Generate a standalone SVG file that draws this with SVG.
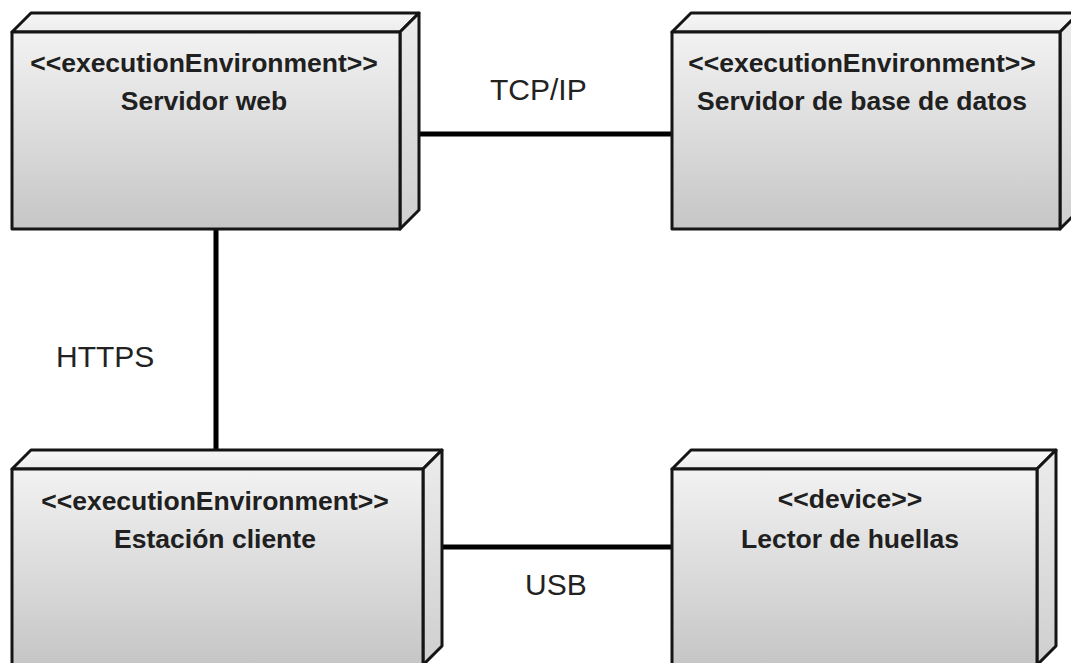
<svg xmlns="http://www.w3.org/2000/svg" width="1071" height="663" viewBox="0 0 1071 663">
  <style>
    .front { fill: url(#gFront); stroke: #151515; stroke-width: 3; stroke-linejoin: round; }
    .top { fill: url(#gTop); stroke: #151515; stroke-width: 3; stroke-linejoin: round; }
    .side { fill: url(#gSide); stroke: #151515; stroke-width: 3; stroke-linejoin: round; }
    .stereo, .name { font-family: "Liberation Sans", Arial, sans-serif; font-weight: bold; font-size: 26.5px; fill: #202020; text-anchor: middle; }
    .link { stroke: #000; stroke-width: 5; fill: none; }
    .label { font-family: "Liberation Sans", Arial, sans-serif; font-size: 30px; fill: #222; }
  </style>
  <defs>
    <linearGradient id="gFront" x1="0" y1="0" x2="0" y2="1">
      <stop offset="0" stop-color="#f2f2f2"/>
      <stop offset="1" stop-color="#c6c6c6"/>
    </linearGradient>
    <linearGradient id="gTop" x1="0" y1="0" x2="0" y2="1">
      <stop offset="0" stop-color="#f7f7f7"/>
      <stop offset="1" stop-color="#ececec"/>
    </linearGradient>
    <linearGradient id="gSide" x1="0" y1="0" x2="0" y2="1">
      <stop offset="0" stop-color="#ececec"/>
      <stop offset="1" stop-color="#cfcfcf"/>
    </linearGradient>
  </defs>
  <rect width="1071" height="663" fill="#ffffff"/>

  <!-- communication paths -->
  <g id="connectors">
    <line class="link" x1="418" y1="134" x2="672" y2="134"/>
    <line class="link" x1="216" y1="229" x2="216" y2="450"/>
    <line class="link" x1="442" y1="547" x2="672" y2="547"/>
    <text class="label" x="490" y="100">TCP/IP</text>
    <text class="label" x="56" y="367">HTTPS</text>
    <text class="label" x="525" y="595">USB</text>
  </g>

  <!-- Servidor web -->
  <g id="servidor-web">
    <polygon class="top" points="12,32 31,13 419,13 400,32"/>
    <polygon class="side" points="400,32 419,13 419,210 400,229"/>
    <rect class="front" x="12" y="32" width="388" height="197"/>
    <text class="stereo" x="204" y="72">&lt;&lt;executionEnvironment&gt;&gt;</text>
    <text class="name" x="204" y="110">Servidor web</text>
  </g>

  <!-- Servidor de base de datos -->
  <g id="servidor-bd">
    <polygon class="top" points="672,32 691,13 1079,13 1060,32"/>
    <polygon class="side" points="1060,32 1079,13 1079,210 1060,229"/>
    <rect class="front" x="672" y="32" width="388" height="197"/>
    <text class="stereo" x="862" y="72">&lt;&lt;executionEnvironment&gt;&gt;</text>
    <text class="name" x="862" y="110">Servidor de base de datos</text>
  </g>

  <!-- Estación cliente -->
  <g id="estacion-cliente">
    <polygon class="top" points="12,469 31,450 442,450 423,469"/>
    <polygon class="side" points="423,469 442,450 442,646 423,665"/>
    <rect class="front" x="12" y="469" width="411" height="196"/>
    <text class="stereo" x="215" y="510">&lt;&lt;executionEnvironment&gt;&gt;</text>
    <text class="name" x="215" y="548">Estación cliente</text>
  </g>

  <!-- Lector de huellas -->
  <g id="lector-huellas">
    <polygon class="top" points="672,469 691,450 1056,450 1037,469"/>
    <polygon class="side" points="1037,469 1056,450 1056,646 1037,665"/>
    <rect class="front" x="672" y="469" width="365" height="196"/>
    <text class="stereo" x="850" y="508">&lt;&lt;device&gt;&gt;</text>
    <text class="name" x="850" y="548">Lector de huellas</text>
  </g>
</svg>
